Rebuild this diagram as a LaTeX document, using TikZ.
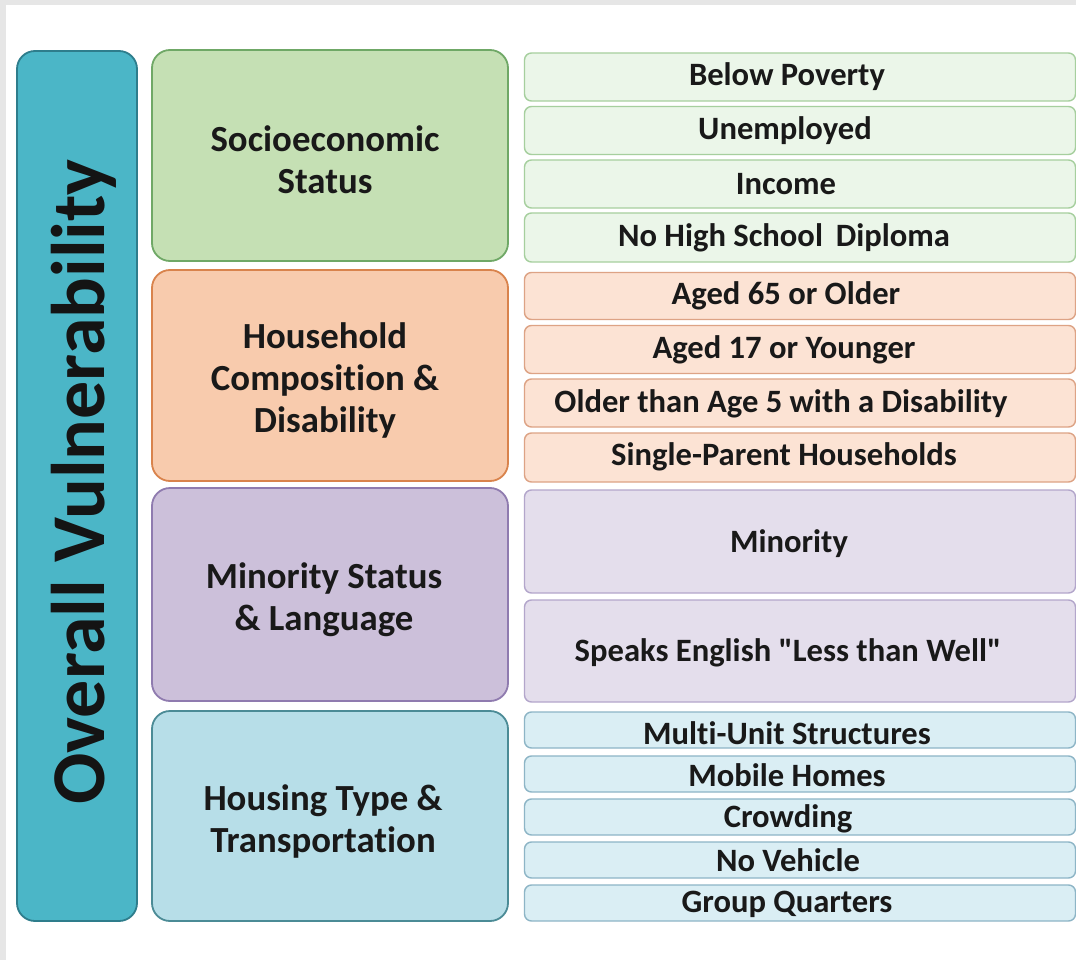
\documentclass[tikz,border=0pt]{standalone}
\usepackage{fontspec}
\setmainfont[Ligatures={NoCommon,TeXOff}]{Carlito}
\definecolor{frame}{HTML}{E6E6E6}
\definecolor{ovfill}{HTML}{4BB6C7}
\definecolor{ovdraw}{HTML}{2E7D8C}
\definecolor{gfill}{HTML}{C5E0B4}
\definecolor{gdraw}{HTML}{6FA866}
\definecolor{gifill}{HTML}{EBF6E9}
\definecolor{gidraw}{HTML}{A6CF9E}
\definecolor{ofill}{HTML}{F8CBAD}
\definecolor{odraw}{HTML}{D9834C}
\definecolor{oifill}{HTML}{FCE3D4}
\definecolor{oidraw}{HTML}{DDA385}
\definecolor{pfill}{HTML}{CCC0DA}
\definecolor{pdraw}{HTML}{8F7BAF}
\definecolor{pifill}{HTML}{E4DEEC}
\definecolor{pidraw}{HTML}{B3A6CB}
\definecolor{bfill}{HTML}{B7DEE8}
\definecolor{bdraw}{HTML}{4B8B96}
\definecolor{bifill}{HTML}{DAEEF4}
\definecolor{bidraw}{HTML}{8DB5C6}
\tikzset{
  catbox/.style={rectangle, rounded corners=18pt, line width=1.8pt, minimum width=356pt, inner sep=0pt},
  itembox/.style={rectangle, rounded corners=7pt, line width=1.4pt, minimum width=551pt, inner sep=0pt},
  cattext/.style={align=center, font=\bfseries\fontsize{36.8}{42}\selectfont, text=black!90},
  itemtext/.style={font=\bfseries\fontsize{32.6}{36}\selectfont, text=black!90, inner sep=0pt},
  gitem/.style={itembox, fill=gifill, draw=gidraw},
  oitem/.style={itembox, fill=oifill, draw=oidraw},
  pitem/.style={itembox, fill=pifill, draw=pidraw},
  bitem/.style={itembox, fill=bifill, draw=bidraw},
}
\begin{document}
\begin{tikzpicture}[x=1pt,y=-1pt]
\useasboundingbox (0,0) rectangle (1076,960);
\fill[white] (0,0) rectangle (1076,960);
\fill[frame] (0,0) rectangle (1076,5);
\fill[frame] (0,0) rectangle (6,960);

% overall
\node[rectangle, rounded corners=18pt, line width=1.8pt, fill=ovfill, draw=ovdraw,
      minimum width=120pt, minimum height=870pt, inner sep=0pt] (ov) at (77,486) {};
\node[rotate=90, font=\bfseries\fontsize{76}{80}\selectfont, text=black!92] (ovt) at (84,482) {Overall Vulnerability};

% categories
\node[catbox, fill=gfill, draw=gdraw, minimum height=211pt] (soc) at (330,155.5) {};
\node[cattext] (soct) at (325,160) {Socioeconomic\\Status};
\node[catbox, fill=ofill, draw=odraw, minimum height=211pt] (hh) at (330,375.5) {};
\node[cattext] (hht) at (325,380) {Household\\Composition \&\\Disability};
\node[catbox, fill=pfill, draw=pdraw, minimum height=213pt] (min) at (330,594.5) {};
\node[cattext] (mint) at (324,600) {Minority Status\\\& Language};
\node[catbox, fill=bfill, draw=bdraw, minimum height=210pt] (hou) at (330,816) {};
\node[cattext] (hout) at (323,821) {Housing Type \&\\Transportation};

% socioeconomic items
\node[gitem, minimum height=48pt] (g1) at (800,77) {};
\node[itemtext] at (787,77) {Below Poverty};
\node[gitem, minimum height=48pt] (g2) at (800,130.5) {};
\node[itemtext] at (785,130.5) {Unemployed};
\node[gitem, minimum height=48pt] (g3) at (800,184) {};
\node[itemtext] at (786,184) {Income};
\node[gitem, minimum height=49pt] (g4) at (800,237.5) {};
\node[itemtext] at (784,237.5) {No High School\, Diploma};

% household items
\node[oitem, minimum height=47pt] (o1) at (800,296) {};
\node[itemtext] at (786,296) {Aged 65 or Older};
\node[oitem, minimum height=48pt] (o2) at (800,349.5) {};
\node[itemtext] at (784,350) {Aged 17 or Younger};
\node[oitem, minimum height=48pt] (o3) at (800,403) {};
\node[itemtext] at (781,404) {Older than Age 5 with a Disability};
\node[oitem, minimum height=49pt] (o4) at (800,457.5) {};
\node[itemtext] at (784,457) {Single-Parent Households};

% minority items
\node[pitem, minimum height=103pt] (p1) at (800,541.5) {};
\node[itemtext] at (789,544) {Minority};
\node[pitem, minimum height=102pt] (p2) at (800,651) {};
\node[itemtext] at (788,653) {Speaks English "Less than Well"};

% housing items
\node[bitem, minimum height=36pt] (b1) at (800,730) {};
\node[itemtext] at (787,733) {Multi-Unit Structures};
\node[bitem, minimum height=36pt] (b2) at (800,774) {};
\node[itemtext] at (787,775) {Mobile Homes};
\node[bitem, minimum height=36pt] (b3) at (800,817) {};
\node[itemtext] at (788,819) {Crowding};
\node[bitem, minimum height=36pt] (b4) at (800,860) {};
\node[itemtext] at (788,860) {No Vehicle};
\node[bitem, minimum height=36pt] (b5) at (800,903) {};
\node[itemtext] at (787,904) {Group Quarters};
\end{tikzpicture}
\end{document}
